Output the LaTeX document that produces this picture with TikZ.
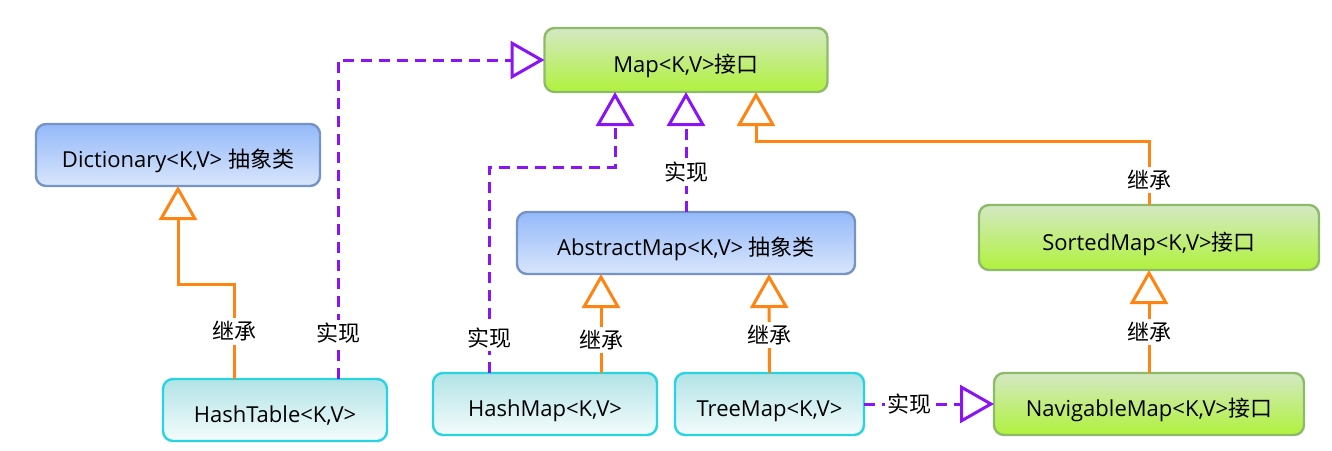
\documentclass[tikz,border=0pt]{standalone}
\usepackage{fontspec}
\setmainfont{Open Sans}
\newfontfamily\cjk{Noto Sans CJK SC}
\usetikzlibrary{arrows.meta,positioning}
\definecolor{ifline}{HTML}{8FBA6A}
\definecolor{iftop}{HTML}{D4E8C4}
\definecolor{ifbot}{HTML}{B0F23C}
\definecolor{absline}{HTML}{7593C4}
\definecolor{abstop}{HTML}{94B9FA}
\definecolor{absbot}{HTML}{D9E6FB}
\definecolor{clsline}{HTML}{27D4E2}
\definecolor{clstop}{HTML}{B2E3E6}
\definecolor{clsbot}{HTML}{F4FCFC}
\definecolor{inhcol}{HTML}{FF8412}
\definecolor{implcol}{HTML}{8A14F5}
\tikzset{
  blk/.style={draw, rectangle, rounded corners=5pt, line width=1.2pt, outer sep=0pt, minimum height=31pt, text height=15pt, text depth=2.5pt, align=center, font=\fontsize{11}{13}\selectfont},
  ifblk/.style={blk, draw=ifline, top color=iftop, bottom color=ifbot},
  absblk/.style={blk, draw=absline, top color=abstop, bottom color=absbot},
  clsblk/.style={blk, draw=clsline, top color=clstop, bottom color=clsbot},
  tip/.style={-{Triangle[open, length=17pt, width=19pt]}},
  inharr/.style={tip, line width=1.5pt, draw=inhcol},
  implarr/.style={tip, line width=1.5pt, draw=implcol, dash pattern=on 5.5pt off 3.5pt},
  lbl/.style={fill=white, inner sep=1.5pt, font=\cjk\fontsize{11}{13}\selectfont},
}
\begin{document}
\begin{tikzpicture}
\useasboundingbox (0,0) rectangle (666pt,-225pt);

\node[ifblk, minimum width=141.5pt, minimum height=32pt] (map) at (343pt,-30pt) {Map<K,V>{\cjk 接口}};
\node[absblk, below=60pt of map, minimum width=169pt] (amap) {AbstractMap<K,V> {\cjk 抽象类}};
\node[absblk, minimum width=142pt] (dict) at (89pt,-77.5pt) {Dictionary<K,V> {\cjk 抽象类}};
\node[ifblk, minimum width=170pt, minimum height=32.5pt] (smap) at (574.5pt,-118.75pt) {SortedMap<K,V>{\cjk 接口}};
\node[ifblk, below=51.5pt of smap, minimum width=155pt] (nav) {NavigableMap<K,V>{\cjk 接口}};

\node[clsblk, left=65pt of nav, minimum width=94.5pt] (tmap) {TreeMap<K,V>};
\node[clsblk, left=9pt of tmap, minimum width=112pt] (hmap) {HashMap<K,V>};
\node[clsblk, left=23pt of hmap, yshift=-3pt, minimum width=112pt] (htab) {HashTable<K,V>};

\draw[inharr] ([xshift=-20.5pt]htab.north) -- node[lbl]{继承} ++(0,47.5pt) -| (dict);
\draw[implarr] ([xshift=31.5pt]htab.north) -- node[lbl]{实现} ++(0,46pt) |- (map);
\draw[implarr] ([xshift=-28pt]hmap.north) -- node[lbl, pos=0.17]{实现} ++(0,103pt) -| ([xshift=-35.5pt]map.south);
\draw[inharr] ([xshift=28pt]hmap.north) -- node[lbl, pos=0.33]{继承} ([xshift=-42.5pt]amap.south);
\draw[inharr] (tmap.north) -- node[lbl, pos=0.38]{继承} ([xshift=41.5pt]amap.south);
\draw[implarr] (amap.north) -- node[lbl, pos=0.33]{实现} (map.south);
\draw[inharr] (smap.north) -- node[lbl, pos=0.39]{继承} ++(0,32pt) -| ([xshift=35pt]map.south);
\draw[inharr] (nav.north) -- node[lbl, pos=0.4]{继承} (smap.south);
\draw[implarr] (tmap.east) -- node[lbl, pos=0.35]{实现} (nav.west);

\end{tikzpicture}
\end{document}
